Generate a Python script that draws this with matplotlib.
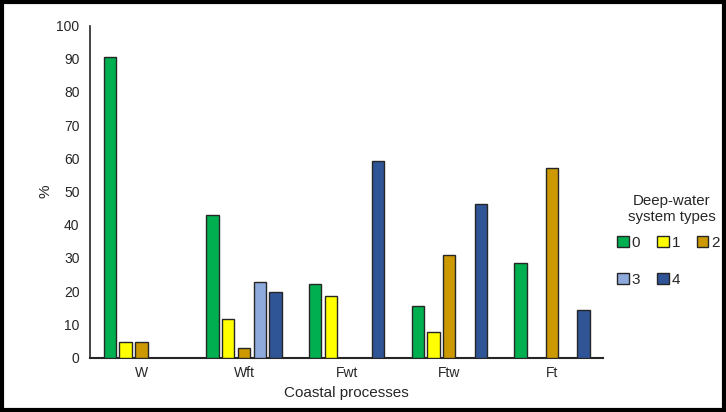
import numpy as np
import matplotlib
matplotlib.use("Agg")
import matplotlib.pyplot as plt
from matplotlib.patches import Rectangle

plt.rcParams['font.family'] = ['Liberation Sans', 'DejaVu Sans']

categories = ["W", "Wft", "Fwt", "Ftw", "Ft"]
types = ["0", "1", "2", "3", "4"]
type0 = [90.5, 42.8, 22.1, 15.4, 28.6]
type1 = [4.8, 11.6, 18.6, 7.7, 0]
type2 = [4.8, 2.8, 0, 30.8, 57.1]
type3 = [0, 22.8, 0, 0, 0]
type4 = [0, 19.9, 59.3, 46.2, 14.3]
series = [type0, type1, type2, type3, type4]
colors = ["#00B050", "#FFFF00", "#CC9900", "#8EA9DB", "#2F5597"]

fig = plt.figure(figsize=(7.26, 4.12), dpi=100)
ax = fig.add_axes([0.124, 0.132, 0.707, 0.806])

x = np.arange(len(categories))
slot = 0.153
width = 0.12
handles = []
for i, (vals, c) in enumerate(zip(series, colors)):
    v = np.array(vals)
    mask = v > 0
    b = ax.bar(x[mask] + (i - 2) * slot, v[mask], width=width, color=c,
               edgecolor="#262626", linewidth=1.0, label=types[i], zorder=3)
    handles.append(b)

ax.set_xlim(-0.5, len(categories) - 0.5)
ax.set_ylim(0, 100)
ax.set_yticks(range(0, 101, 10))
ax.set_xticks(x)
ax.set_xticklabels(categories)
ax.tick_params(axis="both", length=0, labelsize=10, colors="#262626")
ax.tick_params(axis="y", pad=7.5)
ax.tick_params(axis="x", pad=6)
for s in ["top", "right"]:
    ax.spines[s].set_visible(False)
ax.spines["left"].set_color("#262626")
ax.spines["bottom"].set_color("#262626")
ax.spines["left"].set_linewidth(1.2)
ax.spines["bottom"].set_linewidth(1.5)

ax.set_ylabel("%", fontsize=11, color="#262626", labelpad=3)
ax.set_xlabel("Coastal processes", fontsize=11, color="#262626", labelpad=4)

# legend title as separate text, entries row-major: 0 1 2 / 3 4
fig.text(0.9256, 0.493, "Deep-water\nsystem types", ha="center", va="center",
         multialignment="center", fontsize=10.8, color="#262626")
order = [0, 3, 1, 4, 2]
leg = fig.legend([handles[k] for k in order], [types[k] for k in order],
                 loc="center", bbox_to_anchor=(0.921, 0.365), ncol=3,
                 frameon=False, fontsize=11, handlelength=0.75,
                 handleheight=0.75, handletextpad=0.2, columnspacing=1.1,
                 labelspacing=1.5)
for t in leg.get_texts():
    t.set_color("#262626")

fig.patches.append(Rectangle((0.003, 0.004), 0.994, 0.992, transform=fig.transFigure,
                             fill=False, edgecolor="black", linewidth=3))

fig.savefig("out.png", dpi=100)
